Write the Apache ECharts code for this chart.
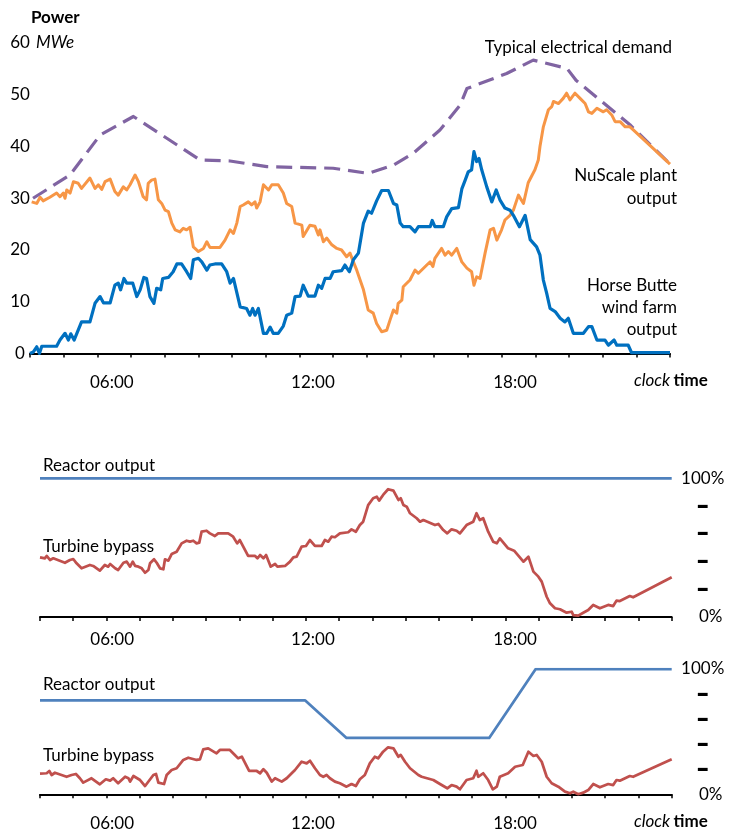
<!DOCTYPE html>
<html><head><meta charset="utf-8">
<script src="https://cdn.jsdelivr.net/npm/echarts@6/dist/echarts.min.js"></script>
<style>html,body{margin:0;padding:0;background:#fff}#c{width:737px;height:832px}</style>
</head><body><div id="c"></div>
<script>
// Time in hours, power in MWe
const demand = [[3.59,30.0],[4.69,34.5],[5.58,42.2],[6.57,45.8],[8.55,37.4],[9.44,37.2],[10.53,36.1],[12.50,35.8],[13.54,34.8],[14.29,36.4],[14.88,38.7],[15.67,43.2],[16.27,48.0],[16.47,51.2],[17.65,54.1],[18.44,56.7],[19.44,55.1],[19.71,52.8],[21.31,44.2],[22.50,36.6]];

const nuscale = [[3.55,29.3],[3.70,29.0],[3.80,30.2],[3.89,29.5],[4.09,30.2],[4.29,31.0],[4.39,30.3],[4.49,31.0],[4.54,30.0],[4.59,31.6],[4.69,31.0],[4.79,33.2],[4.93,32.9],[5.03,31.9],[5.28,33.9],[5.43,31.9],[5.53,32.6],[5.63,31.7],[5.73,33.2],[5.88,33.7],[6.02,31.3],[6.12,30.6],[6.27,32.2],[6.37,31.6],[6.47,32.6],[6.62,34.5],[6.72,33.2],[6.86,30.3],[6.96,29.7],[7.01,32.9],[7.11,33.5],[7.21,33.7],[7.31,29.7],[7.41,29.0],[7.51,27.7],[7.61,27.4],[7.71,25.2],[7.81,23.9],[7.95,23.5],[8.05,24.2],[8.15,23.9],[8.25,24.4],[8.35,20.6],[8.50,19.7],[8.65,20.3],[8.75,21.6],[8.84,20.5],[9.14,20.5],[9.29,21.9],[9.44,23.9],[9.54,23.2],[9.64,25.2],[9.74,28.4],[9.83,28.7],[9.98,29.3],[10.08,28.7],[10.18,29.3],[10.23,28.1],[10.33,29.3],[10.43,32.6],[10.58,31.6],[10.68,32.6],[10.87,32.6],[11.02,31.0],[11.12,29.0],[11.27,28.4],[11.37,25.2],[11.57,24.8],[11.61,22.6],[11.81,24.8],[11.96,24.6],[12.06,22.9],[12.11,23.9],[12.21,21.6],[12.31,22.3],[12.46,21.0],[12.61,20.3],[12.75,20.0],[12.90,18.7],[13.00,19.4],[13.10,17.7],[13.20,16.1],[13.40,12.3],[13.54,8.4],[13.69,7.8],[13.79,5.8],[13.94,4.2],[14.09,4.5],[14.19,6.5],[14.29,8.4],[14.39,7.8],[14.43,9.7],[14.54,10.3],[14.58,12.9],[14.78,14.2],[14.93,16.1],[15.03,15.5],[15.28,17.1],[15.38,17.7],[15.46,16.8],[15.52,18.4],[15.72,20.3],[15.82,19.0],[15.92,19.7],[16.02,19.0],[16.17,20.3],[16.32,17.7],[16.47,16.5],[16.61,15.8],[16.68,13.2],[16.76,14.8],[16.86,14.5],[17.01,19.4],[17.16,23.9],[17.26,24.2],[17.36,21.9],[17.50,23.9],[17.60,25.8],[17.75,26.7],[17.85,27.7],[18.00,30.6],[18.15,29.0],[18.29,33.0],[18.49,35.5],[18.59,37.4],[18.64,40.0],[18.74,43.8],[18.89,47.1],[18.99,47.7],[19.04,48.7],[19.19,48.3],[19.33,49.3],[19.43,50.3],[19.53,49.0],[19.68,50.3],[19.83,49.3],[19.98,48.3],[20.08,46.7],[20.18,46.4],[20.33,47.4],[20.52,46.7],[20.62,47.1],[20.77,46.1],[20.87,44.8],[21.02,44.8],[21.17,43.8],[21.31,43.8],[21.41,43.2],[22.50,36.6]];

const wind = [[3.50,0.0],[3.60,0.3],[3.70,1.3],[3.78,0.0],[3.85,1.4],[4.29,1.4],[4.39,2.6],[4.54,3.9],[4.64,2.6],[4.71,3.8],[4.81,2.6],[5.03,6.1],[5.28,6.1],[5.43,9.7],[5.58,11.0],[5.68,9.8],[5.88,9.8],[6.02,13.2],[6.12,13.6],[6.19,12.3],[6.29,14.5],[6.37,13.6],[6.55,13.6],[6.67,11.0],[6.77,12.3],[6.88,14.7],[6.96,14.5],[7.06,11.0],[7.18,9.7],[7.26,12.6],[7.38,12.3],[7.44,14.5],[7.61,14.7],[7.75,15.8],[7.86,17.3],[8.00,17.3],[8.15,15.8],[8.27,14.5],[8.35,18.1],[8.50,18.4],[8.60,17.7],[8.75,16.1],[8.84,17.1],[8.99,17.3],[9.19,17.3],[9.34,15.8],[9.44,13.6],[9.54,14.5],[9.74,9.0],[9.93,8.7],[10.03,7.4],[10.11,8.7],[10.18,7.4],[10.28,8.7],[10.43,3.9],[10.53,3.9],[10.63,5.1],[10.72,3.9],[10.87,3.9],[11.02,5.3],[11.12,7.4],[11.27,7.8],[11.37,11.0],[11.52,11.1],[11.61,13.2],[11.76,11.1],[11.96,11.1],[12.06,13.2],[12.16,12.6],[12.26,14.5],[12.41,14.5],[12.50,15.8],[12.75,16.0],[12.85,17.1],[12.98,15.8],[13.10,18.1],[13.25,19.4],[13.40,25.2],[13.54,27.5],[13.64,27.1],[13.79,29.5],[13.94,31.5],[14.14,31.5],[14.29,29.0],[14.39,28.7],[14.49,25.2],[14.58,24.5],[14.78,24.5],[14.93,23.5],[15.03,24.5],[15.38,24.5],[15.44,25.7],[15.52,24.5],[15.77,24.5],[15.87,26.4],[16.02,28.0],[16.22,28.2],[16.32,31.8],[16.42,33.5],[16.51,35.1],[16.61,35.5],[16.68,39.0],[16.76,37.1],[16.83,37.7],[16.91,35.5],[17.06,32.2],[17.21,29.3],[17.34,31.6],[17.45,29.7],[17.60,28.1],[17.75,27.7],[17.85,26.7],[18.03,24.5],[18.20,26.7],[18.35,22.0],[18.54,20.6],[18.64,19.0],[18.74,14.2],[18.84,11.6],[18.94,8.7],[19.09,8.1],[19.24,6.8],[19.38,6.1],[19.48,6.8],[19.63,3.9],[19.93,3.9],[20.08,5.2],[20.18,5.2],[20.33,2.6],[20.57,2.6],[20.67,1.6],[20.84,2.6],[20.92,1.6],[21.26,1.6],[21.36,0.15],[22.50,0.15]];

// Percent panels
const reactorA = [[3.5,100],[22.5,100]];
const bypassA = [[3.50,43.0],[3.65,42.3],[3.70,44.0],[3.80,41.1],[3.90,42.3],[4.25,39.1],[4.40,41.1],[4.50,41.8],[4.60,38.7],[4.75,35.1],[5.00,37.5],[5.10,36.8],[5.30,33.4],[5.45,37.5],[5.55,36.3],[5.61,38.2],[5.76,35.1],[5.85,33.9],[6.01,39.1],[6.11,39.9],[6.21,36.3],[6.29,39.9],[6.36,36.8],[6.46,36.3],[6.56,35.1],[6.66,31.9],[6.76,33.9],[6.81,38.7],[6.93,41.6],[7.01,39.1],[7.11,35.1],[7.21,34.4],[7.26,41.6],[7.36,40.6],[7.46,45.4],[7.61,47.1],[7.76,53.1],[7.91,55.0],[8.01,54.3],[8.11,55.0],[8.21,53.1],[8.29,53.6],[8.36,61.5],[8.51,62.2],[8.61,60.3],[8.76,58.4],[8.86,60.3],[9.16,60.3],[9.31,57.9],[9.43,53.1],[9.51,55.5],[9.76,44.0],[9.97,44.0],[10.04,42.3],[10.12,44.7],[10.22,42.3],[10.30,44.7],[10.44,36.3],[10.57,38.2],[10.64,36.3],[10.87,36.8],[11.02,39.9],[11.12,43.0],[11.22,43.5],[11.37,50.7],[11.50,51.2],[11.62,55.5],[11.77,51.2],[11.97,51.2],[12.07,55.5],[12.17,54.3],[12.27,57.9],[12.37,57.5],[12.52,60.3],[12.77,61.1],[12.87,63.2],[13.00,61.5],[13.12,66.3],[13.22,68.7],[13.37,80.7],[13.52,85.6],[13.63,86.7],[13.70,83.9],[13.82,88.0],[13.97,92.1],[14.13,91.1],[14.28,84.4],[14.35,85.6],[14.43,80.7],[14.53,79.5],[14.63,74.8],[14.83,71.2],[14.93,68.7],[15.03,69.9],[15.38,66.3],[15.48,67.1],[15.63,62.7],[15.75,60.3],[15.88,63.2],[16.03,62.2],[16.13,60.3],[16.33,66.3],[16.53,68.7],[16.63,74.8],[16.73,69.9],[16.83,71.2],[16.98,61.5],[17.13,54.3],[17.24,53.1],[17.33,56.7],[17.58,49.5],[17.76,47.8],[18.04,39.9],[18.19,43.5],[18.34,32.7],[18.49,29.1],[18.59,25.5],[18.74,14.6],[18.84,9.9],[18.99,6.3],[19.14,5.6],[19.34,3.1],[19.49,3.8],[19.54,1.4],[19.69,1.0],[19.84,3.1],[19.99,5.0],[20.14,8.7],[20.34,6.3],[20.59,8.7],[20.74,7.9],[20.84,11.8],[20.94,11.5],[21.24,15.1],[21.34,14.2],[22.50,28.6]];

const reactorB = [[3.5,75],[11.47,75],[12.72,45],[17.01,45],[18.41,100],[22.5,100]];
const bypassB = [[3.50,16.5],[3.55,17.2],[3.70,16.8],[3.78,18.6],[3.85,15.4],[3.95,17.2],[4.30,14.0],[4.45,15.4],[4.58,16.2],[4.70,12.8],[4.80,9.3],[5.05,12.8],[5.30,8.0],[5.48,12.0],[5.61,10.9],[5.70,12.8],[5.85,8.8],[6.06,14.0],[6.16,12.8],[6.21,10.1],[6.31,14.6],[6.51,11.4],[6.66,6.6],[6.91,15.4],[6.99,16.2],[7.06,9.3],[7.23,8.2],[7.31,15.4],[7.36,14.6],[7.46,19.4],[7.61,20.8],[7.81,27.4],[7.96,29.2],[8.21,27.4],[8.31,27.9],[8.41,35.9],[8.56,36.7],[8.81,32.7],[8.91,35.4],[9.21,35.4],[9.36,31.4],[9.46,28.7],[9.57,30.0],[9.79,18.6],[10.02,18.6],[10.12,16.8],[10.22,20.0],[10.32,17.2],[10.47,10.1],[10.57,12.8],[10.77,10.1],[10.92,12.8],[11.07,16.8],[11.17,19.4],[11.37,26.0],[11.52,24.7],[11.62,26.8],[11.77,20.8],[11.92,15.4],[12.02,14.0],[12.12,15.4],[12.22,12.8],[12.37,10.1],[12.52,8.8],[12.72,6.1],[12.87,8.2],[13.00,6.6],[13.12,12.0],[13.27,15.4],[13.42,24.7],[13.57,30.0],[13.67,28.7],[13.82,34.0],[13.97,37.5],[14.13,36.7],[14.28,30.0],[14.35,31.4],[14.48,26.0],[14.63,20.8],[14.88,15.4],[14.98,14.0],[15.33,11.4],[15.53,8.2],[15.75,4.8],[15.88,7.4],[16.03,6.1],[16.13,4.0],[16.33,11.4],[16.53,12.8],[16.63,18.8],[16.68,14.0],[16.83,16.8],[16.98,11.4],[17.12,4.0],[17.24,6.1],[17.33,14.0],[17.58,16.8],[17.79,22.0],[18.02,23.4],[18.19,34.0],[18.34,30.6],[18.44,31.4],[18.59,26.0],[18.74,14.0],[18.89,8.8],[19.09,6.1],[19.29,2.1],[19.44,0.8],[19.54,2.1],[19.69,0.0],[19.84,1.3],[19.99,3.4],[20.14,8.2],[20.34,5.6],[20.59,8.2],[20.74,7.4],[20.84,11.4],[20.94,10.9],[21.24,14.6],[21.34,14.0],[22.50,27.9]];

const timeLabels = ['06:00','12:00','18:00'];
const topLabelAt = [5.93, 11.90, 17.90];
const lowLabelAt = [5.67, 11.71, 17.79];

const FONT = 'Lato';
const FS = 17;
const chart = echarts.init(document.getElementById('c'), null, {renderer:'canvas'});

function xAxisCfg(gi, labelAt, margin) {
  return {
    type:'value', gridIndex:gi, min:3.5, max:22.5, interval:1,
    axisLine:{show:true, onZero:false, lineStyle:{color:'#000', width:2}},
    axisTick:{show:true, length:4, lineStyle:{color:'#000', width:1.5}},
    axisLabel:{show:true, customValues:labelAt, margin:margin, color:'#000', fontFamily:FONT, fontSize:FS,
      formatter:function(v){ let best=0; for(let i=0;i<labelAt.length;i++){ if(Math.abs(labelAt[i]-v)<Math.abs(labelAt[best]-v)) best=i; } return timeLabels[best]; }},
    splitLine:{show:false}
  };
}
function pctAxis(gi) {
  return {
    type:'value', gridIndex:gi, position:'right', min:0, max:100, interval:20,
    axisLine:{show:false}, axisTick:{show:false}, splitLine:{show:false},
    axisLabel:{align:'center', margin:31, color:'#000', fontFamily:FONT, fontSize:FS,
      formatter:function(v){ if(v===100) return '100%'; if(v===0) return '{z|0%}'; return '{d|–}'; },
      rich:{ z:{padding:[0,0,0,16], fontFamily:FONT, fontSize:FS, color:'#000'},
             d:{fontFamily:'DejaVu Sans', fontSize:25, fontWeight:'bold', color:'#000'} }
    }
  };
}
function line(name, data, xi, yi, color, width, type) {
  return {name, type:'line', xAxisIndex:xi, yAxisIndex:yi, data, showSymbol:false, symbol:'none', silent:true,
    lineStyle:{color, width, type: type || 'solid', cap:'butt', join:'round'}, animation:false};
}
const txt = (x, y, text, extra) => ({type:'text', x, y, silent:true,
  style:Object.assign({text, fill:'#000', font: FS+'px '+FONT, verticalAlign:'middle', align:'left'}, extra||{})});

chart.setOption({
  backgroundColor:'#fff',
  animation:false,
  grid:[
    {left:30, right:67, top:43, bottom:478.5},
    {left:40, right:65.3, top:478.3, bottom:215},
    {left:40, right:65.3, top:669, bottom:37.7}
  ],
  xAxis:[ xAxisCfg(0, topLabelAt, 20.5), xAxisCfg(1, lowLabelAt, 14), xAxisCfg(2, lowLabelAt, 20.5) ],
  yAxis:[
    {type:'value', gridIndex:0, min:0, max:60, interval:10, axisLine:{show:false}, axisTick:{show:false}, splitLine:{show:false},
      axisLabel:{align:'center', margin:10, color:'#000', fontFamily:FONT, fontSize:FS}},
    pctAxis(1), pctAxis(2)
  ],
  series:[
    line('Typical electrical demand', demand, 0, 0, '#8064a2', 3.2, [16, 8]),
    line('NuScale plant output', nuscale, 0, 0, '#f79646', 3),
    line('Horse Butte wind farm output', wind, 0, 0, '#0070c0', 3.2),
    line('Reactor output', reactorA, 1, 1, '#4f81bd', 2.75),
    line('Turbine bypass', bypassA, 1, 1, '#c0504d', 2.75),
    line('Reactor output', reactorB, 2, 2, '#4f81bd', 2.75),
    line('Turbine bypass', bypassB, 2, 2, '#c0504d', 2.75)
  ],
  graphic:[
    txt(31, 18, 'Power', {font:'bold '+FS+'px '+FONT}),
    txt(36, 43, 'MWe', {font:'italic '+FS+'px '+FONT}),
    txt(672, 48, 'Typical electrical demand', {align:'right'}),
    txt(677, 176, 'NuScale plant', {align:'right'}),
    txt(677, 199, 'output', {align:'right'}),
    txt(677, 286, 'Horse Butte', {align:'right'}),
    txt(677, 308, 'wind farm', {align:'right'}),
    txt(677, 330, 'output', {align:'right'}),
    {type:'text', x:634, y:381, silent:true, style:{text:'{i|clock} {b|time}', verticalAlign:'middle', fill:'#000',
      rich:{i:{fontStyle:'italic', fontFamily:FONT, fontSize:FS, fill:'#000'}, b:{fontWeight:'bold', fontFamily:FONT, fontSize:FS, fill:'#000'}}}},
    txt(43, 466, 'Reactor output'),
    txt(43, 547, 'Turbine bypass'),
    txt(43, 685, 'Reactor output'),
    txt(43, 756, 'Turbine bypass'),
    {type:'text', x:634, y:822, silent:true, style:{text:'{i|clock} {b|time}', verticalAlign:'middle', fill:'#000',
      rich:{i:{fontStyle:'italic', fontFamily:FONT, fontSize:FS, fill:'#000'}, b:{fontWeight:'bold', fontFamily:FONT, fontSize:FS, fill:'#000'}}}}
  ]
});
</script></body></html>
